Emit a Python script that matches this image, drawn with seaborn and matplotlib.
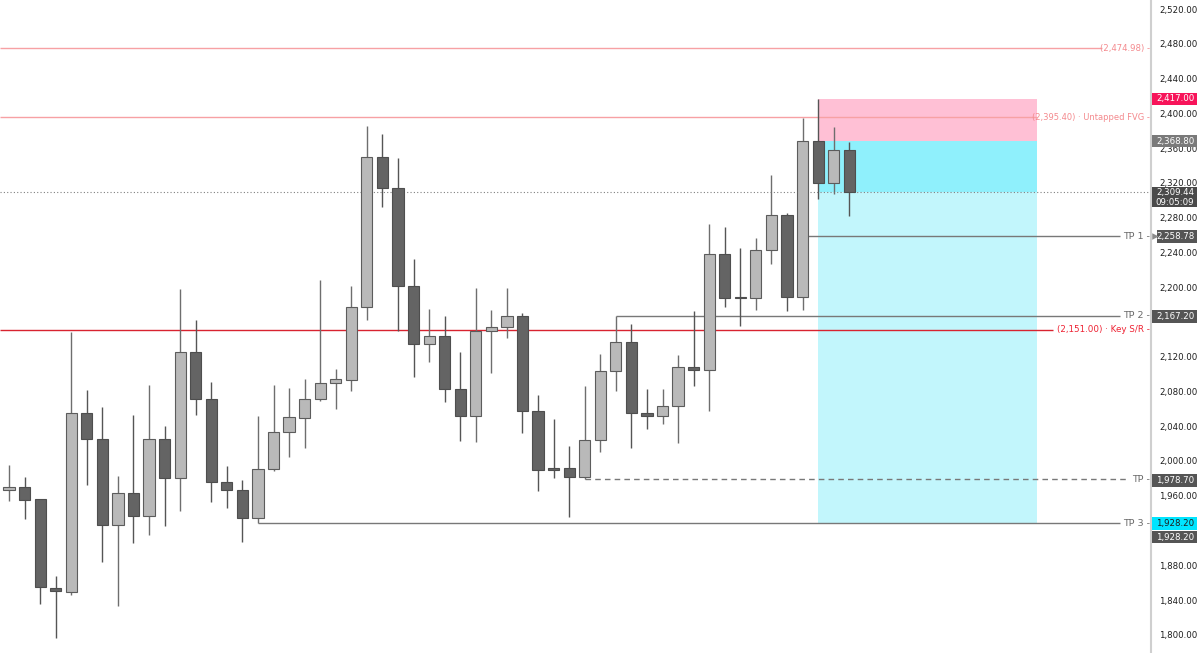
import pandas as pd
import matplotlib
matplotlib.use('Agg')
import matplotlib.pyplot as plt
from matplotlib.patches import Rectangle
from matplotlib.transforms import blended_transform_factory
import seaborn as sns

# daily OHLC
opens = [1966.6, 1970.4, 1955.9, 1853.8, 1849.6, 2054.9, 2025.7, 1926.7, 1962.8, 1936.7,
         2025.7, 1980.8, 2125.1, 2071.0, 1976.2, 1966.6, 1934.0, 1990.8, 2033.4, 2049.8,
         2071.0, 2089.4, 2093.6, 2176.9, 2350.3, 2314.6, 2201.4, 2135.0, 2143.5, 2082.5,
         2052.1, 2149.6, 2154.2, 2166.9, 2057.9, 1991.9, 1991.9, 1981.9, 2024.2, 2103.6,
         2137.0, 2054.9, 2052.1, 2063.0, 2107.8, 2104.7, 2237.9, 2188.3, 2188.0, 2242.5,
         2282.8, 2189.2, 2368.8, 2320.3, 2357.6]
closes = [1970.4, 1955.1, 1854.6, 1850.0, 2054.9, 2025.7, 1926.7, 1962.8, 1936.7, 2025.7,
          1980.8, 2125.1, 2071.0, 1976.2, 1966.6, 1934.0, 1990.8, 2033.7, 2050.3, 2071.4,
          2089.4, 2094.0, 2176.9, 2350.3, 2314.6, 2201.4, 2135.0, 2143.5, 2082.5, 2052.1,
          2149.6, 2154.6, 2166.9, 2057.9, 1989.6, 1989.6, 1981.9, 2024.2, 2103.6, 2137.0,
          2054.9, 2051.8, 2063.0, 2107.8, 2104.7, 2237.9, 2188.0, 2188.0, 2242.5, 2282.8,
          2189.2, 2368.0, 2320.3, 2357.6, 2309.44]
highs = [1995.4, 1981.9, 1956.0, 1867.6, 2148.8, 2081.7, 2061.8, 1983.1, 2052.9, 2087.5,
         2040.3, 2198.0, 2162.3, 2091.3, 1994.2, 1978.1, 2052.1, 2086.9, 2083.7, 2094.0,
         2208.3, 2105.5, 2201.4, 2385.6, 2376.4, 2348.7, 2232.2, 2175.0, 2166.9, 2125.1,
         2198.8, 2173.8, 2199.5, 2170.0, 2075.4, 2048.3, 2017.6, 2086.3, 2122.8, 2167.2,
         2157.7, 2082.5, 2082.5, 2122.0, 2173.2, 2272.4, 2269.0, 2244.8, 2256.3, 2329.2,
         2285.8, 2395.1, 2417.0, 2384.1, 2367.2]
lows = [1954.3, 1932.9, 1835.4, 1796.3, 1845.8, 1972.4, 1884.1, 1833.5, 1905.3, 1915.2,
        1925.5, 1942.8, 2052.9, 1953.2, 1946.2, 1906.4, 1928.2, 1988.0, 2004.9, 2015.3,
        2069.0, 2059.5, 2080.9, 2162.3, 2292.0, 2149.6, 2097.0, 2113.6, 2067.9, 2023.4,
        2021.5, 2101.6, 2141.9, 2032.6, 1965.5, 1980.8, 1935.9, 1978.7, 2010.7, 2080.9,
        2015.3, 2037.2, 2042.6, 2020.4, 2086.3, 2057.9, 2177.6, 2155.4, 2173.8, 2226.7,
        2172.6, 2173.8, 2301.6, 2307.0, 2282.3]

# horizontal levels
level_prices = [2474.98, 2395.40, 2151.00]
level_labels = ['(2,474.98) -', '(2,395.40) · Untapped FVG -', '(2,151.00) · Key S/R -']

tp_prices = [2258.78, 2167.20, 1978.70, 1928.20]
tp_labels = ['TP 1 -', 'TP 2 -', 'TP -', 'TP 3 -']
tp_start_bar = [51, 39, 37, 16]

# short position tool
entry_price = 2368.80
stop_price = 2417.00
target_price = 1928.20
entry_bar = 52
last_price = 2309.44
countdown = '09:05:09'

tick_values = list(range(1800, 2521, 40))
# 2,160 and 1,920 sit fully under price tags on the scale
hidden_ticks = [2160, 1920]
tick_labels = ['' if v in hidden_ticks else f'{v:,.2f}' for v in tick_values]

df = pd.DataFrame({'open': opens, 'high': highs, 'low': lows, 'close': closes})
df['bar'] = range(len(df))
df['up'] = df['close'] >= df['open']

sns.set_style('white')
plt.rcParams['font.family'] = ['DejaVu Sans']

W, H = 1200, 653
AX_W = 1151
fig = plt.figure(figsize=(W / 100, H / 100), dpi=100)
ax = fig.add_axes([0, 0, AX_W / W, 1])


def bar_x(px):
    # pixel column -> bar index
    return (px - 9) / 15.56


ax.set_xlim(bar_x(0), bar_x(AX_W))
ax.set_ylim(1779.0, 2530.6)

# position box
box_end = bar_x(1037)
ax.fill_between([entry_bar, box_end], entry_price, stop_price, color='#ffc0d5', lw=0, zorder=1)
ax.fill_between([entry_bar, box_end], last_price, entry_price, color='#8ff0fc', lw=0, zorder=1)
ax.fill_between([entry_bar, box_end], target_price, last_price, color='#c2f6fc', lw=0, zorder=1)

# candles
styles = {True: ('#b9b9b9', '#5c5c5c', '#6e6e6e'), False: ('#646464', '#4e4e4e', '#555555')}
for up, grp in df.groupby('up'):
    fill, edge, wick = styles[up]
    ax.vlines(grp['bar'], grp['low'], grp['high'], color=wick, lw=1.0, zorder=3)
    body = (grp['close'] - grp['open']).abs()
    ax.bar(grp['bar'], body, bottom=grp[['open', 'close']].min(axis=1), width=0.72,
           color=fill, edgecolor=edge, linewidth=0.8, zorder=4)

trans = blended_transform_factory(ax.transAxes, ax.transData)

# level lines with labels
level_end_px = [1102, 1037, 1053]
level_line_col = ['#f7a1a4', '#f7a1a4', '#d8232f']
level_text_col = ['#f48a8e', '#f48a8e', '#ee2233']
level_size = [6.1, 6.0, 6.3]
for p, lab, end, lc, tc, fs in zip(level_prices, level_labels, level_end_px,
                                   level_line_col, level_text_col, level_size):
    ax.hlines(p, bar_x(0), bar_x(end), color=lc, lw=1.0, zorder=2)
    ax.text(1150 / AX_W, p, lab, transform=trans, ha='right', va='center',
            fontsize=fs, color=tc, zorder=6)

# take-profit lines
tp_end_px = [1120, 1120, 1128, 1120]
tp_styles = ['-', '-', (0, (4, 3)), '-']
for p, lab, sb, end, ls in zip(tp_prices, tp_labels, tp_start_bar, tp_end_px, tp_styles):
    ax.hlines(p, sb, bar_x(end), color='#787878', lw=1.0, ls=ls, zorder=2)
    ax.text(1150 / AX_W, p, lab, transform=trans, ha='right', va='center',
            fontsize=6.8, color='#6a6a6a', zorder=6)

# current price
ax.axhline(last_price, color='#808080', ls=(0, (1, 2)), lw=0.8, zorder=2)

# price scale
ax.yaxis.tick_right()
ax.set_yticks(tick_values)
ax.set_yticklabels(tick_labels)
ax.tick_params(axis='y', length=0, pad=6, labelsize=6.2, labelcolor='#1e1e1e')
ax.set_xticks([])
for s in ['top', 'left', 'bottom']:
    ax.spines[s].set_visible(False)
ax.spines['right'].set_color('#cfcfcf')
ax.spines['right'].set_linewidth(1.5)

# price tags on the scale
pax = fig.add_axes([1152 / W, 0, 48 / W, 1], zorder=5)
pax.set_xlim(0, 48)
pax.set_ylim(ax.get_ylim())
pax.axis('off')

tag_h = 14.5
tags = [
    (2416.7, '2,417.00', '#f7145a', 'white'),
    (2368.3, '2,368.80', '#7a7a7a', 'white'),
    (2258.1, '2,258.78', '#555555', 'white'),
    (2166.0, '2,167.20', '#555555', 'white'),
    (1977.5, '1,978.70', '#555555', 'white'),
    (1928.2, '1,928.20', '#00e5ff', '#1e1e1e'),
    (1912.5, '1,928.20', '#555555', 'white'),
]
for yc, txt, bg, fg in tags:
    x0 = 5 if txt == '2,258.78' else 0
    pax.add_patch(Rectangle((x0, yc - tag_h / 2), 45 - x0, tag_h, color=bg, lw=0))
    pax.text(23, yc, txt, ha='center', va='center', fontsize=6.2, color=fg)
pax.scatter([2.5], [2258.78], marker='>', s=22, color='#8a8a8a', lw=0)

# last price + countdown tag
pax.add_patch(Rectangle((0, 2292.4), 45, 22.4, color='#4a4a4a', lw=0))
pax.text(23, 2309.2, f'{last_price:,.2f}', ha='center', va='center', fontsize=6.2, color='white')
pax.text(23, 2297.6, countdown, ha='center', va='center', fontsize=6.2, color='white')

fig.savefig('out.png', dpi=100, facecolor='white')
